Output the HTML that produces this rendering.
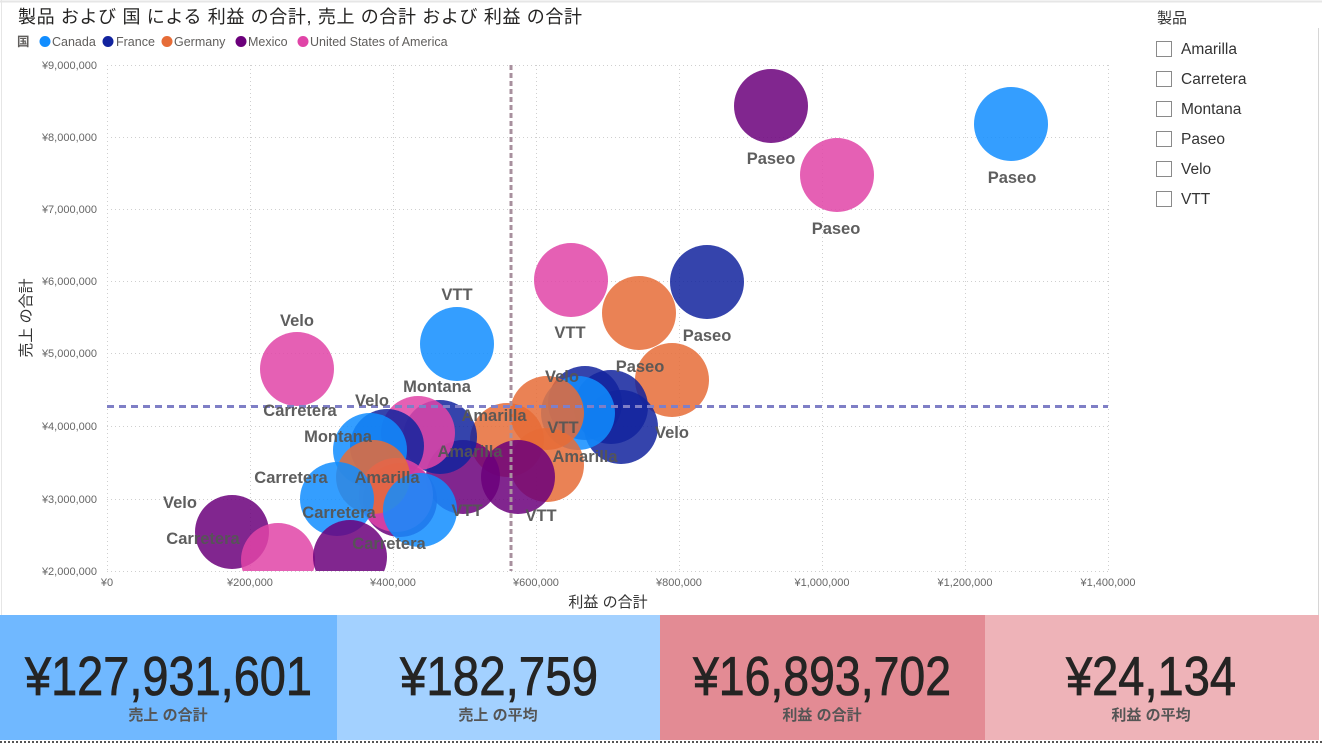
<!DOCTYPE html>
<html><head><meta charset="utf-8"><style>
html,body{margin:0;padding:0;background:#fff;}
svg{display:block;}
text{font-family:"Liberation Sans","Noto Sans CJK JP",sans-serif;}
</style></head><body>
<svg width="1322" height="747" viewBox="0 0 1322 747" xmlns="http://www.w3.org/2000/svg">
<defs><clipPath id="pc"><rect x="107" y="65" width="1001" height="506"/></clipPath></defs>
<rect x="0" y="0" width="1322" height="747" fill="#fff"/>
<line x1="0" y1="1.5" x2="1322" y2="1.5" stroke="#e6e6e6" stroke-width="2"/>
<line x1="1.5" y1="0" x2="1.5" y2="615" stroke="#e6e6e6" stroke-width="1"/>
<line x1="1318.5" y1="28" x2="1318.5" y2="615" stroke="#d6d6d6" stroke-width="1"/>

<!-- title -->
<text x="18" y="23" font-size="18" fill="#252423" textLength="564" lengthAdjust="spacing">製品 および 国 による 利益 の合計, 売上 の合計 および 利益 の合計</text>

<!-- legend -->
<g font-size="12.5" fill="#605E5C">
<text x="17" y="46" font-weight="bold">国</text>
<circle cx="45" cy="41.5" r="5.5" fill="#118DFF"/><text x="52" y="46">Canada</text>
<circle cx="108" cy="41.5" r="5.5" fill="#12239E"/><text x="116" y="46">France</text>
<circle cx="167" cy="41.5" r="5.5" fill="#E66C37"/><text x="174" y="46">Germany</text>
<circle cx="241" cy="41.5" r="5.5" fill="#6B007B"/><text x="248" y="46">Mexico</text>
<circle cx="303" cy="41.5" r="5.5" fill="#E044A7"/><text x="310" y="46">United States of America</text>
</g>

<!-- gridlines -->
<g stroke="#cfcfcf" stroke-width="1" stroke-dasharray="1,3">
<line x1="107" y1="65.5" x2="1108" y2="65.5"/>
<line x1="107" y1="137.5" x2="1108" y2="137.5"/>
<line x1="107" y1="209.5" x2="1108" y2="209.5"/>
<line x1="107" y1="281.5" x2="1108" y2="281.5"/>
<line x1="107" y1="353.5" x2="1108" y2="353.5"/>
<line x1="107" y1="426.5" x2="1108" y2="426.5"/>
<line x1="107" y1="499.5" x2="1108" y2="499.5"/>
<line x1="107" y1="571.5" x2="1108" y2="571.5"/>
<line x1="107.5" y1="65" x2="107.5" y2="571"/>
<line x1="250.5" y1="65" x2="250.5" y2="571"/>
<line x1="393.5" y1="65" x2="393.5" y2="571"/>
<line x1="536.5" y1="65" x2="536.5" y2="571"/>
<line x1="679.5" y1="65" x2="679.5" y2="571"/>
<line x1="822.5" y1="65" x2="822.5" y2="571"/>
<line x1="965.5" y1="65" x2="965.5" y2="571"/>
<line x1="1108.5" y1="65" x2="1108.5" y2="571"/>
</g>

<!-- y ticks -->
<g font-size="11" fill="#666" text-anchor="end">
<text x="97" y="69">¥9,000,000</text>
<text x="97" y="141">¥8,000,000</text>
<text x="97" y="213">¥7,000,000</text>
<text x="97" y="285">¥6,000,000</text>
<text x="97" y="357">¥5,000,000</text>
<text x="97" y="430">¥4,000,000</text>
<text x="97" y="503">¥3,000,000</text>
<text x="97" y="575">¥2,000,000</text>
</g>
<!-- x ticks -->
<g font-size="11" fill="#666" text-anchor="middle">
<text x="107" y="586">¥0</text>
<text x="250" y="586">¥200,000</text>
<text x="393" y="586">¥400,000</text>
<text x="536" y="586">¥600,000</text>
<text x="679" y="586">¥800,000</text>
<text x="822" y="586">¥1,000,000</text>
<text x="965" y="586">¥1,200,000</text>
<text x="1108" y="586">¥1,400,000</text>
</g>
<text x="608" y="607" font-size="15" fill="#333" text-anchor="middle">利益 の合計</text>
<text transform="translate(31,318) rotate(-90)" font-size="15" fill="#333" text-anchor="middle">売上 の合計</text>

<!-- bubbles -->
<g clip-path="url(#pc)" fill-opacity="0.85">
<circle cx="771" cy="106" r="37" fill="#6B007B"/>
<circle cx="1011" cy="124" r="37" fill="#118DFF"/>
<circle cx="837" cy="175" r="37" fill="#E044A7"/>
<circle cx="707" cy="282" r="37" fill="#12239E"/>
<circle cx="571" cy="280" r="37" fill="#E044A7"/>
<circle cx="639" cy="313" r="37" fill="#E66C37"/>
<circle cx="672" cy="380" r="37" fill="#E66C37"/>
<circle cx="457" cy="344" r="37" fill="#118DFF"/>
<circle cx="297" cy="369" r="37" fill="#E044A7"/>
<circle cx="585" cy="403" r="37" fill="#12239E"/>
<circle cx="611" cy="407" r="37" fill="#12239E"/>
<circle cx="621" cy="427" r="37" fill="#12239E"/>
<circle cx="578" cy="413" r="37" fill="#118DFF"/>
<circle cx="547" cy="413" r="37" fill="#E66C37"/>
<circle cx="507" cy="440" r="37" fill="#E66C37"/>
<circle cx="547" cy="465" r="37" fill="#E66C37"/>
<circle cx="518" cy="477" r="37" fill="#6B007B"/>
<circle cx="463" cy="477" r="37" fill="#6B007B"/>
<circle cx="440" cy="437" r="37" fill="#12239E"/>
<circle cx="418" cy="433" r="37" fill="#E044A7"/>
<circle cx="387" cy="446" r="37" fill="#12239E"/>
<circle cx="370" cy="450" r="37" fill="#118DFF"/>
<circle cx="400" cy="500" r="37" fill="#6B007B"/>
<circle cx="396" cy="495" r="37" fill="#E044A7"/>
<circle cx="373" cy="477" r="37" fill="#E66C37"/>
<circle cx="420" cy="510" r="37" fill="#118DFF"/>
<circle cx="337" cy="499" r="37" fill="#118DFF"/>
<circle cx="232" cy="532" r="37" fill="#6B007B"/>
<circle cx="278" cy="560" r="37" fill="#E044A7"/>
<circle cx="350" cy="557" r="37" fill="#6B007B"/>
</g>

<!-- mean lines -->
<line x1="511" y1="65" x2="511" y2="571" stroke="#A8909E" stroke-width="3" stroke-dasharray="5,3"/>
<line x1="107" y1="406.5" x2="1108" y2="406.5" stroke="#7F7FC6" stroke-width="3" stroke-dasharray="7,5"/>

<!-- labels -->
<g font-size="16.5" font-weight="bold" fill="#555" fill-opacity="0.95" text-anchor="middle" dominant-baseline="central">
<text x="771" y="159">Paseo</text>
<text x="1012" y="178">Paseo</text>
<text x="836" y="229">Paseo</text>
<text x="707" y="336">Paseo</text>
<text x="640" y="367">Paseo</text>
<text x="570" y="333">VTT</text>
<text x="457" y="295">VTT</text>
<text x="297" y="321">Velo</text>
<text x="300" y="411">Carretera</text>
<text x="437" y="387">Montana</text>
<text x="372" y="401">Velo</text>
<text x="338" y="437">Montana</text>
<text x="494" y="416">Amarilla</text>
<text x="470" y="452">Amarilla</text>
<text x="291" y="478">Carretera</text>
<text x="387" y="478">Amarilla</text>
<text x="339" y="513">Carretera</text>
<text x="467" y="511">VTT</text>
<text x="180" y="503">Velo</text>
<text x="203" y="539">Carretera</text>
<text x="389" y="544">Carretera</text>
<text x="562" y="377">Velo</text>
<text x="563" y="428">VTT</text>
<text x="585" y="457">Amarilla</text>
<text x="541" y="516">VTT</text>
<text x="672" y="433">Velo</text>
</g>

<!-- slicer -->
<text x="1157" y="23" font-size="15" fill="#333">製品</text>
<g fill="#fff" stroke="#8a8a8a" stroke-width="1">
<rect x="1156.5" y="41.5" width="15" height="15"/>
<rect x="1156.5" y="71.5" width="15" height="15"/>
<rect x="1156.5" y="101.5" width="15" height="15"/>
<rect x="1156.5" y="131.5" width="15" height="15"/>
<rect x="1156.5" y="161.5" width="15" height="15"/>
<rect x="1156.5" y="191.5" width="15" height="15"/>
</g>
<g font-size="15.5" fill="#333">
<text x="1181" y="54">Amarilla</text>
<text x="1181" y="84">Carretera</text>
<text x="1181" y="114">Montana</text>
<text x="1181" y="144">Paseo</text>
<text x="1181" y="174">Velo</text>
<text x="1181" y="204">VTT</text>
</g>

<!-- cards -->
<rect x="0" y="615" width="337" height="125" fill="#70B8FF"/>
<rect x="337" y="615" width="323" height="125" fill="#A3D1FF"/>
<rect x="660" y="615" width="325" height="125" fill="#E38B94"/>
<rect x="985" y="615" width="334" height="125" fill="#EEB3B8"/>
<line x1="0" y1="742" x2="1322" y2="742" stroke="#555" stroke-width="2" stroke-dasharray="2,2"/>
<g font-size="55" fill="#252423" stroke="#252423" stroke-width="0.8">
<text x="25" y="695" textLength="287" lengthAdjust="spacingAndGlyphs">¥127,931,601</text>
<text x="400" y="695" textLength="198" lengthAdjust="spacingAndGlyphs">¥182,759</text>
<text x="693" y="695" textLength="258" lengthAdjust="spacingAndGlyphs">¥16,893,702</text>
<text x="1066" y="695" textLength="170" lengthAdjust="spacingAndGlyphs">¥24,134</text>
</g>
<g font-size="15" font-weight="bold" fill="#555" text-anchor="middle">
<text x="168" y="720">売上 の合計</text>
<text x="498" y="720">売上 の平均</text>
<text x="822" y="720">利益 の合計</text>
<text x="1151" y="720">利益 の平均</text>
</g>
</svg>
</body></html>
